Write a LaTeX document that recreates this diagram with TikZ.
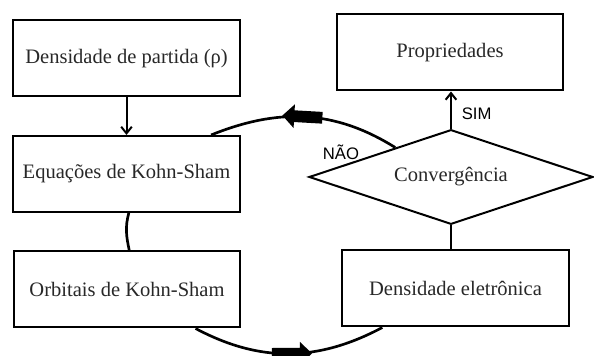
\documentclass[tikz,border=0pt]{standalone}
\usepackage{fontspec}
\setmainfont{Liberation Serif}
\newfontfamily\labelfont{Liberation Sans}
\usetikzlibrary{arrows.meta,calc,shapes.geometric,shapes.arrows}
\definecolor{inkgray}{RGB}{40,40,40}
\tikzset{
  block/.style={draw,rectangle,line width=1.5pt,minimum width=170pt,minimum height=57pt,align=center,fill=white,text=inkgray,font=\fontsize{15.4}{18}\selectfont},
  decision/.style={draw,diamond,line width=1.5pt,aspect=3,inner sep=0pt,minimum width=213pt,minimum height=71pt,fill=white,text=inkgray,font=\fontsize{15.4}{18}\selectfont},
  cycle/.style={line width=2pt},
  bigarrow/.style={single arrow,fill=black,draw=none,minimum height=30pt,inner sep=3.4pt,single arrow head extend=4.5pt,sloped,allow upside down},
  answer/.style={font=\labelfont\fontsize{12.5}{14}\selectfont}
}

\begin{document}
\begin{tikzpicture}[x=0.75pt,y=0.75pt,>={Straight Barb[length=5pt,width=8pt]},line width=1.5pt]
  \useasboundingbox (0,0) rectangle (594,356);

  \node[block] (start) at (126.5,297.5) {Densidade de partida (ρ)};
  \node[block] (ks) at (126.5,182) {Equações de Kohn-Sham};
  \node[block] (orb) at (127,66.5) {Orbitais de Kohn-Sham};
  \node[block] (prop) at (450,303.5) {Propriedades};
  \node[decision] (conv) at (451,179) {Convergência};
  \node[block] (dens) at (455.5,67.5) {Densidade eletrônica};

  \draw[->] (start) -- (ks);
  \draw[->] (conv.north) -- (conv.north |- prop.south) node[answer,pos=0.4,right=4pt]{SIM};

  % self-consistent loop
  \draw[cycle] ($(conv.north)!0.39!(conv.west)$) to[out=148,in=22] node[bigarrow]{} ($(ks.north west)!0.87!(ks.north east)$);
  \draw[cycle] ($(ks.south west)!0.51!(ks.south east)$) to[out=255,in=102] ($(orb.north west)!0.51!(orb.north east)$);
  \draw[cycle] ($(orb.south west)!0.80!(orb.south east)$) to[out=-28,in=208] node[bigarrow]{} ($(dens.south west)!0.18!(dens.south east)$);
  \draw[cycle] (conv.south) -- (conv.south |- dens.north);

  \node[answer] (nao) at (341,204) {NÃO};
\end{tikzpicture}
\end{document}
